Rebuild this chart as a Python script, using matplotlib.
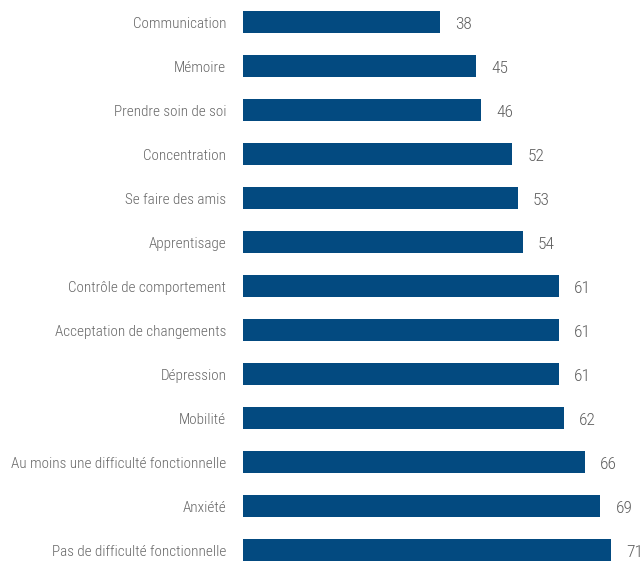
import matplotlib
matplotlib.use('Agg')
import matplotlib.pyplot as plt

labels = ['Communication', 'Mémoire', 'Prendre soin de soi', 'Concentration',
          'Se faire des amis', 'Apprentisage', 'Contrôle de comportement',
          'Acceptation de changements', 'Dépression', 'Mobilité',
          'Au moins une difficulté fonctionnelle', 'Anxiété',
          'Pas de difficulté fonctionnelle']
values = [38, 45, 46, 52, 53, 54, 61, 61, 61, 62, 66, 69, 71]

plt.rcParams['font.family'] = ['Roboto Condensed', 'DejaVu Sans']

fig = plt.figure(figsize=(6.43, 5.62), dpi=100)
ax = fig.add_axes([243 / 643, 0, 1 - 243 / 643, 1])

pos = list(range(len(values)))
ax.barh(pos, values, height=0.5, color='#034a80')

# value labels just past the end of each bar
for y, v in zip(pos, values):
    ax.text(v + 2.9, y + 0.05, str(v), va='center', ha='left', fontsize=12.5,
            fontweight='light', color='#5e5e5e')

ax.set_yticks(pos)
ax.set_yticklabels(labels, fontsize=10.9, fontweight='light', color='#666666')
for t in ax.get_yticklabels():
    t.set_va('center_baseline')
ax.tick_params(axis='y', length=0, pad=12)
ax.set_xticks([])
ax.set_xlim(0, 400 / 5.18)
ax.set_ylim(12.27, -0.5)
for s in ax.spines.values():
    s.set_visible(False)

fig.savefig('out.png', dpi=100)
